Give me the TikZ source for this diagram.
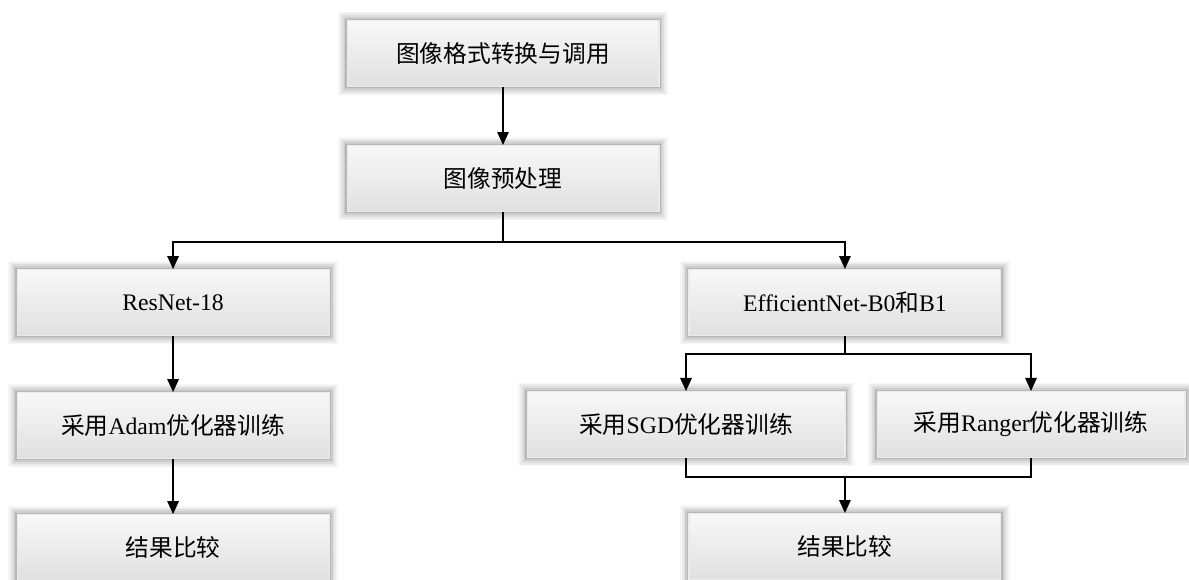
\documentclass[tikz,border=0pt]{standalone}
\usepackage{fontspec}
\setmainfont{Liberation Serif}
\newfontfamily\cjk{Noto Sans CJK SC}
\usetikzlibrary{positioning, arrows.meta, calc}
\definecolor{boxtop}{RGB}{248,248,248}
\definecolor{boxbot}{RGB}{224,224,224}
\definecolor{boxline}{RGB}{235,235,235}

\begin{document}
\begin{tikzpicture}[
    x=0.02cm, y=-0.02cm,
    box/.style={rectangle, draw=boxline, line width=0.6pt, top color=boxtop, bottom color=boxbot,
        minimum width=6.24cm, minimum height=1.32cm, inner sep=0pt, align=center,
        font=\fontsize{13.5}{16}\selectfont,
        preaction={draw=black, line width=10pt, opacity=0.035},
        preaction={draw=black, line width=8pt, opacity=0.045},
        preaction={draw=black, line width=6pt, opacity=0.06},
        preaction={draw=black, line width=4pt, opacity=0.08},
        preaction={draw=black, line width=2pt, opacity=0.1}},
    arrow/.style={-{Triangle[length=2.6mm, width=2.3mm]}, line width=0.8pt},
    line/.style={line width=0.8pt}
]
\useasboundingbox (0,0) rectangle (1189,579);

% === TOP ===
\node[box] (convert) at (503,53.5) {\cjk 图像格式转换与调用};
\node[box, below=1.16cm of convert] (prep) {\cjk 图像预处理};

% === LEFT BRANCH ===
\node[box, below=1.14cm of prep, xshift=-6.6cm] (resnet) {ResNet-18};
\node[box, below=1.12cm of resnet] (adam) {{\cjk 采用}Adam{\cjk 优化器训练}};
\node[box, below=1.1cm of adam] (cmpleft) {\cjk 结果比较};

% === RIGHT BRANCH ===
\node[box, below=1.14cm of prep, xshift=6.84cm] (effnet) {EfficientNet-B0{\cjk 和}B1};
\node[box, minimum width=6.36cm] (sgd) at (686,424.5) {{\cjk 采用}SGD{\cjk 优化器训练}};
\node[box, minimum width=6.16cm] (ranger) at (1031,424.5) {{\cjk 采用}Ranger{\cjk 优化器训练}};
\node[box, below=1.1cm of sgd.south -| effnet.south, anchor=north] (cmpright) {\cjk 结果比较};

% Connections
\draw[arrow] (convert) -- (prep);
\coordinate (split1) at ($(prep.south)+(0,30)$);
\draw[arrow] (prep.south) -- (split1) -| (resnet.north);
\draw[arrow] (split1) -| (effnet.north);
\draw[arrow] (resnet) -- (adam);
\draw[arrow] (adam) -- (cmpleft);

\coordinate (split2) at ($(effnet.south)+(0,18)$);
\draw[line] (effnet.south) -- (split2);
\draw[arrow] (split2) -| (sgd.north);
\draw[arrow] (split2) -| (ranger.north);

\coordinate (merge) at ($(sgd.south -| effnet.south)+(0,19)$);
\draw[line] (sgd.south) |- (merge);
\draw[line] (ranger.south) |- (merge);
\draw[arrow] (merge) -- (cmpright);

\end{tikzpicture}
\end{document}
